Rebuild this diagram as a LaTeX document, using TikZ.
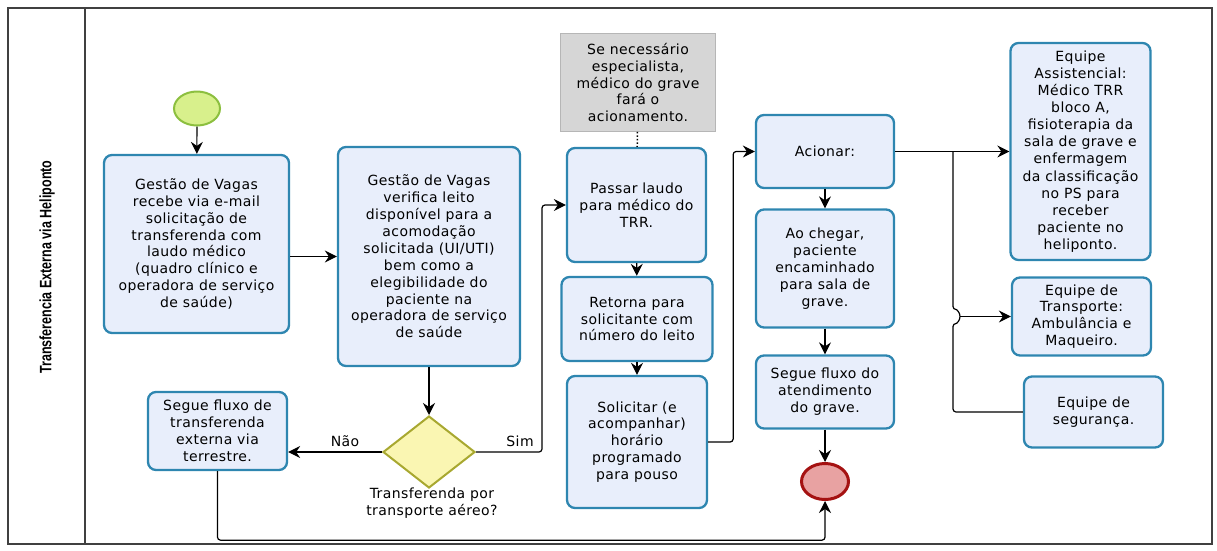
\documentclass[tikz,border=0pt]{standalone}
\usepackage{fontspec}
\usepackage{graphicx}
\setmainfont{DejaVu Sans}[LetterSpace=3]
\newfontfamily\titlefont{Liberation Sans}
\usetikzlibrary{arrows.meta,shapes.geometric}
\definecolor{boxfill}{HTML}{E8EEFB}
\definecolor{boxdraw}{HTML}{2E86B0}
\definecolor{decfill}{HTML}{FAF6B2}
\definecolor{decdraw}{HTML}{A8A830}
\definecolor{stfill}{HTML}{D8F08C}
\definecolor{stdraw}{HTML}{8CBF3F}
\definecolor{endfill}{HTML}{E8A2A2}
\definecolor{enddraw}{HTML}{A51212}
\definecolor{notefill}{HTML}{D6D6D6}
\definecolor{framecol}{HTML}{404040}
\begin{document}
\begin{tikzpicture}[x=1pt,y=-1pt,
  txt/.style={font=\fontsize{14}{16.9}\selectfont, align=center},
  task/.style={txt, draw=boxdraw, fill=boxfill, line width=2.3pt, rounded corners=8pt, inner sep=0pt},
  conn/.style={draw=black, line width=1.2pt, -{Stealth[length=12pt,width=12pt,inset=4pt]}, rounded corners=3pt},
  plain/.style={draw=black, line width=1.2pt, rounded corners=3pt},
  framebox/.style={draw=framecol, line width=1.2pt}]
\path[use as bounding box] (0,0) rectangle (1217,550);
\draw[framebox] (8,8) rectangle (1212,544);
\draw[framebox] (85,8) -- (85,544);
\node[rotate=90, font=\titlefont\bfseries\fontsize{16.5}{18}\selectfont] (title) at (47,267) {\scalebox{0.76}[1]{Transferencia Externa via Heliponto}};

% events
\node[ellipse, draw=stdraw, fill=stfill, line width=2pt, minimum width=46pt, minimum height=34pt, inner sep=0pt] (start) at (197,108.5) {};
\node[ellipse, draw=enddraw, fill=endfill, line width=3pt, minimum width=47pt, minimum height=36pt, inner sep=0pt] (end) at (825,481.5) {};

% tasks
\node[task, minimum width=185pt, minimum height=178pt] (b1) at (196.5,244) {Gestão de Vagas\\recebe via e-mail\\solicitação de\\transferenda com\\laudo médico\\(quadro clínico e\\operadora de serviço\\de saúde)};
\node[task, minimum width=139pt, minimum height=78pt] (terr) at (217.5,431) {Segue fluxo de\\transferenda\\externa via\\terrestre.};
\node[task, minimum width=182pt, minimum height=219pt] (b2) at (429,256.5) {Gestão de Vagas\\verifica leito\\disponível para a\\acomodação\\solicitada (UI/UTI)\\bem como a\\elegibilidade do\\paciente na\\operadora de serviço\\de saúde};
\node[diamond, draw=decdraw, fill=decfill, line width=2pt, minimum width=92pt, minimum height=72pt, inner sep=0pt] (dec) at (429,452) {};
\node[txt] (declab) at (432,503) {Transferenda por\\transporte aéreo?};
\node[txt] (nao) at (345,441) {Não};
\node[txt] (sim) at (520,441) {Sim};

\node[txt, fill=notefill, draw=notefill!85!black, line width=0.6pt, minimum width=155pt, minimum height=98pt, inner sep=0pt] (note) at (638,82.5) {Se necessário\\especialista,\\médico do grave\\fará o\\acionamento.};
\node[task, minimum width=139pt, minimum height=114pt] (passar) at (636.5,205) {Passar laudo\\para médico do\\TRR.};
\node[task, minimum width=151pt, minimum height=84pt] (ret) at (637,319) {Retorna para\\solicitante com\\número do leito};
\node[task, minimum width=140pt, minimum height=132pt] (sol) at (637,442) {Solicitar (e\\acompanhar)\\horário\\programado\\para pouso};

\node[task, minimum width=138pt, minimum height=73pt] (acionar) at (825,151.5) {Acionar:};
\node[task, minimum width=138pt, minimum height=118pt] (chegar) at (825,268.5) {Ao chegar,\\paciente\\encaminhado\\para sala de\\grave.};
\node[task, minimum width=138pt, minimum height=73pt] (segue) at (825,392) {Segue fluxo do\\atendimento\\do grave.};

\node[task, minimum width=140pt, minimum height=217pt, font=\fontsize{14}{17.1}\selectfont] (assist) at (1080.5,151.5) {Equipe\\Assistencial:\\Médico TRR\\bloco A,\\fisioterapia da\\sala de grave e\\enfermagem\\da classificação\\no PS para\\receber\\paciente no\\heliponto.};
\node[task, minimum width=139pt, minimum height=78pt] (transp) at (1081.5,316.5) {Equipe de\\Transporte:\\Ambulância e\\Maqueiro.};
\node[task, minimum width=139pt, minimum height=71pt] (segur) at (1093.5,412) {Equipe de\\segurança.};

% connectors
\draw[conn] (start) -- (b1);
\draw[conn] (b1.east |- b2.west) -- (b2.west);
\draw[conn] (b2) -- (dec);
\draw[conn] (dec.west) -- (dec.west -| terr.east);
\draw[conn] (dec.east) -- ++(66,0) |- (passar.west);
\draw[line width=1.5pt, dotted] (note) -- (passar);
\draw[conn] (passar) -- (ret);
\draw[conn] (ret) -- (sol);
\draw[conn] (sol.east) -- ++(25,0) |- (acionar.west);
\draw[conn] (acionar) -- (chegar);
\draw[conn] (chegar) -- (segue);
\draw[conn] (segue) -- (end);
\draw[conn] (terr.south) -- ++(0,69) -| (end.south);
\draw[conn] (acionar.east) -- (assist.west);
\coordinate (jn) at (953,151.5);
\coordinate (hop) at (960,316.5);
\draw[plain] (jn) -- (953,309.5) arc(-90:90:7) -- (953,412) -- (segur.west);
\draw[conn] (hop) -- (transp.west);
\end{tikzpicture}
\end{document}
